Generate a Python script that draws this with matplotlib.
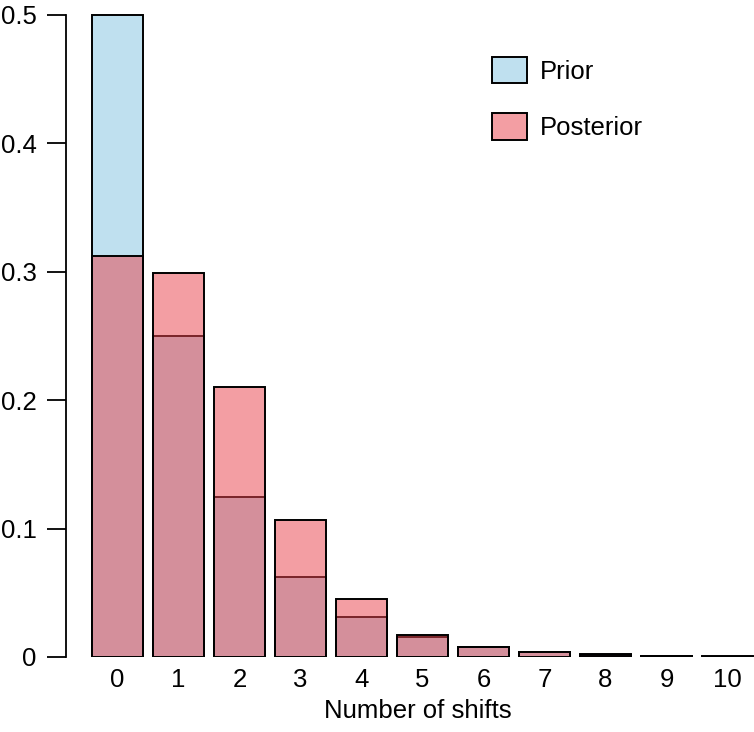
import matplotlib
matplotlib.use("Agg")
import matplotlib.pyplot as plt

shifts = [0, 1, 2, 3, 4, 5, 6, 7, 8, 9, 10]
shift_labels = ["0", "1", "2", "3", "4", "5", "6", "7", "8", "9", "10"]
prior = [0.5, 0.25, 0.125, 0.0625, 0.03125, 0.015625, 0.0078, 0.0039, 0.00195, 0.00098, 0.00049]
posterior = [0.312, 0.299, 0.210, 0.107, 0.045, 0.017, 0.0078, 0.0039, 0.0017, 0.0008, 0.0003]
yticks = [0, 0.1, 0.2, 0.3, 0.4, 0.5]
ytick_labels = ["0", "0.1", "0.2", "0.3", "0.4", "0.5"]

plt.rcParams['font.family'] = ['Liberation Sans', 'DejaVu Sans']

W, H = 754, 732
FS = 18.5
fig = plt.figure(figsize=(W / 100, H / 100), dpi=100)
ax = fig.add_axes([66 / W, (H - 657) / H, (W - 66) / W, 657 / H])

bw = 51 / 61
ax.bar(shifts, prior, width=bw, color="#bfe0ef", edgecolor="black", linewidth=1.4, label="Prior", zorder=2)
ax.bar(shifts, posterior, width=bw, color=(0.91, 0.27, 0.31, 0.52), edgecolor="black", linewidth=1.4,
       label="Posterior", zorder=3)

ax.set_xlim((66 - 117.5) / 61, (W - 117.5) / 61)
ax.set_ylim(0, 0.5 + 15 / 1284)

for s in ["top", "right", "bottom"]:
    ax.spines[s].set_visible(False)
ax.spines["left"].set_bounds(0, 0.5)
ax.spines["left"].set_linewidth(1.3)

ax.set_yticks(yticks)
ax.set_yticklabels(ytick_labels)
ax.tick_params(axis="y", length=14, width=1.3, pad=7, labelsize=FS)
ax.set_xticks(shifts)
ax.set_xticklabels(shift_labels)
ax.tick_params(axis="x", length=0, pad=8, labelsize=FS)

ax.set_xlabel("Number of shifts", fontsize=FS, va="center")
ax.xaxis.set_label_coords((418 - 66) / (W - 66), -(711 - 657) / 657)

leg = ax.legend(loc="upper left", bbox_to_anchor=((492 - 66) / (W - 66), 1 - 57 / 657),
                frameon=False, fontsize=FS, handlelength=1.35, handleheight=1.2,
                handletextpad=0.5, labelspacing=1.15, borderpad=0, borderaxespad=0)

fig.savefig("out.png", dpi=100)
